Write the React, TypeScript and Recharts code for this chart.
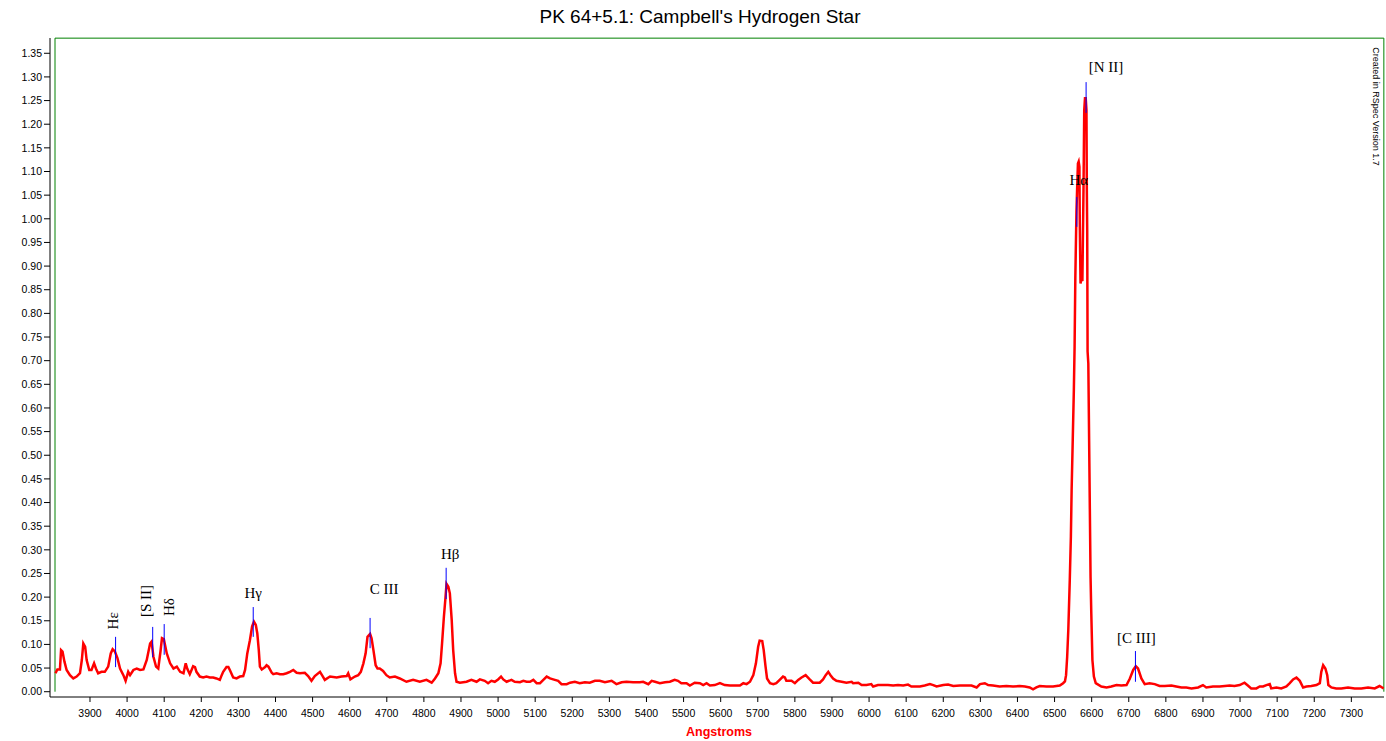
import React from 'react';
import { LineChart, Line, XAxis, YAxis, ReferenceLine, ReferenceDot } from 'recharts';

// Spectrum: [wavelength (Angstrom), relative flux]
const spectrumBlue: [number, number][] = [
  [3807, 0.039], [3812, 0.047], [3819, 0.047], [3822, 0.088], [3826, 0.085], [3831, 0.064], [3837, 0.046],
  [3846, 0.035], [3855, 0.028], [3864, 0.032], [3873, 0.039], [3878, 0.067], [3882, 0.102], [3887, 0.095],
  [3891, 0.067], [3898, 0.046], [3904, 0.046], [3911, 0.060], [3916, 0.049], [3922, 0.039], [3931, 0.042],
  [3940, 0.042], [3949, 0.053], [3956, 0.081], [3961, 0.090], [3967, 0.085], [3974, 0.071], [3981, 0.049],
  [3990, 0.035], [3996, 0.023], [4003, 0.042], [4008, 0.035], [4017, 0.046], [4026, 0.049], [4035, 0.046],
  [4044, 0.047], [4053, 0.067], [4062, 0.102], [4066, 0.106], [4071, 0.074], [4078, 0.053], [4084, 0.049],
  [4090, 0.085], [4094, 0.113], [4099, 0.111], [4107, 0.081], [4116, 0.060], [4125, 0.049], [4134, 0.053],
  [4143, 0.042], [4152, 0.039], [4158, 0.060], [4162, 0.049], [4169, 0.037], [4178, 0.054], [4183, 0.052],
  [4187, 0.042], [4196, 0.032], [4205, 0.030], [4214, 0.032], [4223, 0.030], [4232, 0.030], [4241, 0.028],
  [4250, 0.025], [4255, 0.035], [4259, 0.042], [4268, 0.052], [4273, 0.052], [4277, 0.046], [4286, 0.030],
  [4295, 0.028], [4304, 0.032], [4313, 0.033], [4318, 0.046], [4324, 0.081], [4331, 0.109], [4337, 0.138],
  [4342, 0.148], [4347, 0.141], [4351, 0.123], [4355, 0.088], [4358, 0.053], [4363, 0.047], [4372, 0.052],
  [4376, 0.056], [4381, 0.053], [4390, 0.040], [4394, 0.037], [4403, 0.039], [4412, 0.037], [4421, 0.037],
  [4430, 0.039], [4439, 0.042], [4448, 0.046], [4457, 0.040], [4466, 0.039],
];

const spectrumHbeta: [number, number][] = [
  [4479, 0.040], [4488, 0.033], [4497, 0.023], [4506, 0.033], [4520, 0.042], [4527, 0.033], [4533, 0.025],
  [4547, 0.032], [4565, 0.030], [4578, 0.032], [4592, 0.033], [4596, 0.039], [4602, 0.026], [4614, 0.032],
  [4623, 0.035], [4630, 0.042], [4637, 0.060], [4643, 0.081], [4648, 0.116], [4655, 0.122], [4659, 0.113],
  [4664, 0.088], [4670, 0.056], [4675, 0.049], [4681, 0.049], [4690, 0.044], [4699, 0.035], [4708, 0.030],
  [4722, 0.032], [4735, 0.028], [4753, 0.021], [4771, 0.025], [4789, 0.021], [4807, 0.025], [4821, 0.019],
  [4830, 0.028], [4839, 0.039], [4845, 0.060], [4849, 0.102], [4854, 0.159], [4858, 0.197], [4861, 0.228],
  [4866, 0.222], [4870, 0.208], [4875, 0.152], [4879, 0.088], [4884, 0.039], [4888, 0.021], [4897, 0.019],
  [4915, 0.021], [4928, 0.025], [4942, 0.021],
];

const spectrumGreen: [number, number][] = [
  [4951, 0.026], [4964, 0.023], [4973, 0.018], [4982, 0.023], [4991, 0.021], [5000, 0.026], [5008, 0.032],
  [5014, 0.026], [5023, 0.021], [5036, 0.025], [5045, 0.021], [5059, 0.020], [5068, 0.023], [5077, 0.021],
  [5086, 0.021], [5095, 0.025], [5104, 0.018], [5113, 0.018], [5122, 0.025], [5131, 0.032], [5140, 0.028],
  [5153, 0.025], [5162, 0.023], [5171, 0.016], [5185, 0.016], [5194, 0.019], [5207, 0.021], [5220, 0.018],
  [5234, 0.020], [5247, 0.019], [5261, 0.023], [5274, 0.023], [5288, 0.020], [5306, 0.023], [5319, 0.016],
  [5333, 0.020], [5346, 0.021], [5364, 0.020], [5382, 0.020], [5391, 0.021], [5405, 0.016], [5414, 0.023],
  [5423, 0.021], [5436, 0.018], [5450, 0.020], [5463, 0.021], [5476, 0.025], [5485, 0.023], [5494, 0.018],
  [5508, 0.018], [5517, 0.013], [5530, 0.019], [5544, 0.018], [5553, 0.014], [5562, 0.018], [5571, 0.013],
  [5584, 0.014], [5598, 0.018], [5611, 0.014], [5625, 0.013], [5638, 0.013], [5652, 0.013], [5661, 0.018],
  [5670, 0.016], [5679, 0.021], [5688, 0.035], [5695, 0.060], [5701, 0.095], [5705, 0.108], [5712, 0.107],
  [5716, 0.088], [5721, 0.053], [5725, 0.028],
];

const spectrumYellow: [number, number][] = [
  [5733, 0.018], [5742, 0.016], [5750, 0.018], [5759, 0.025], [5768, 0.032], [5773, 0.030], [5777, 0.023],
  [5791, 0.023], [5800, 0.018], [5809, 0.025], [5818, 0.030], [5829, 0.035], [5840, 0.026], [5849, 0.019],
  [5867, 0.019], [5876, 0.026], [5883, 0.035], [5890, 0.042], [5896, 0.035], [5903, 0.028], [5912, 0.023],
  [5926, 0.021], [5939, 0.019], [5953, 0.021], [5957, 0.018], [5971, 0.019], [5980, 0.014], [5993, 0.014],
  [6006, 0.016], [6011, 0.011], [6024, 0.014], [6038, 0.014], [6051, 0.014], [6065, 0.013], [6078, 0.014],
  [6092, 0.013], [6105, 0.015], [6114, 0.011], [6137, 0.011], [6150, 0.013], [6164, 0.016], [6173, 0.014],
  [6182, 0.011], [6200, 0.014], [6213, 0.015], [6227, 0.012], [6245, 0.013], [6258, 0.013], [6276, 0.013],
  [6290, 0.009], [6299, 0.016], [6312, 0.018], [6321, 0.014], [6334, 0.013], [6352, 0.011], [6370, 0.012],
  [6388, 0.011], [6406, 0.012], [6420, 0.011], [6433, 0.009], [6442, 0.005], [6451, 0.009], [6460, 0.012],
  [6478, 0.011], [6496, 0.011], [6514, 0.013], [6523, 0.018],
];

const spectrumHalpha: [number, number][] = [
  [6528, 0.022], [6531, 0.035], [6534, 0.074], [6537, 0.130], [6541, 0.236], [6544, 0.328], [6546, 0.426],
  [6549, 0.532], [6552, 0.638], [6554, 0.730], [6556, 0.877], [6559, 1.015], [6561, 1.068], [6563, 1.117],
  [6565, 1.121], [6567, 1.110], [6568, 0.990], [6570, 0.863], [6573, 0.880], [6575, 0.868], [6578, 1.061],
  [6580, 1.230], [6582, 1.255], [6584, 1.255], [6586, 1.230], [6587, 1.061], [6588, 0.976], [6589, 0.720],
  [6591, 0.694], [6594, 0.469], [6597, 0.243], [6599, 0.166], [6602, 0.067], [6606, 0.032], [6611, 0.018],
];

const spectrumRed: [number, number][] = [
  [6626, 0.011], [6640, 0.009], [6653, 0.011], [6667, 0.014], [6680, 0.013], [6694, 0.014], [6703, 0.028],
  [6712, 0.046], [6719, 0.054], [6725, 0.049], [6734, 0.028], [6743, 0.016], [6756, 0.018], [6770, 0.016],
  [6783, 0.012], [6797, 0.012], [6815, 0.013], [6828, 0.011], [6842, 0.009], [6855, 0.009], [6869, 0.007],
  [6887, 0.009], [6900, 0.014], [6909, 0.009], [6927, 0.011], [6945, 0.011], [6959, 0.012], [6972, 0.013],
  [6985, 0.012], [6999, 0.014], [7012, 0.019], [7021, 0.013], [7030, 0.007], [7044, 0.007], [7053, 0.011],
  [7062, 0.011], [7071, 0.014], [7080, 0.016], [7084, 0.007], [7098, 0.009], [7111, 0.007], [7125, 0.011],
  [7134, 0.018], [7143, 0.026], [7152, 0.030], [7161, 0.023], [7170, 0.009], [7179, 0.011], [7192, 0.012],
  [7206, 0.014], [7215, 0.018], [7219, 0.042], [7224, 0.056], [7230, 0.049], [7235, 0.035], [7238, 0.014],
  [7246, 0.009], [7259, 0.007], [7273, 0.007], [7291, 0.009], [7309, 0.007], [7327, 0.007], [7345, 0.009],
  [7363, 0.007], [7376, 0.012], [7387, 0.007],
];

const xTicks = [3900, 4000, 4100, 4200, 4300, 4400, 4500, 4600, 4700, 4800, 4900, 5000, 5100, 5200, 5300,
  5400, 5500, 5600, 5700, 5800, 5900, 6000, 6100, 6200, 6300, 6400, 6500, 6600, 6700, 6800, 6900, 7000,
  7100, 7200, 7300];
const yTicks = [0, 0.05, 0.1, 0.15, 0.2, 0.25, 0.3, 0.35, 0.4, 0.45, 0.5, 0.55, 0.6, 0.65, 0.7, 0.75, 0.8,
  0.85, 0.9, 0.95, 1.0, 1.05, 1.1, 1.15, 1.2, 1.25, 1.3, 1.35];

// Identified emission lines
const lineNames = ['Hε', '[S II]', 'Hδ', 'Hγ', 'C III', 'Hβ', 'Hα', '[N II]', '[C III]'];
const lineWavelengths = [3969, 4069, 4100, 4340, 4655, 4860, 6560, 6585, 6718];
const lineTops = [0.116, 0.137, 0.143, 0.179, 0.156, 0.262, 1.046, 1.289, 0.086];
const lineBottoms = [0.052, 0.073, 0.078, 0.116, 0.092, 0.196, 0.983, 1.224, 0.021];

// Frame (plot border) extents
const frameX = [3805.7, 7387.6];
const frameY = [0, 1.382];

// Label layout (pixel offsets from the top of each marker)
const labelDx = [-3, -7, 5, 0, 14, 4, 2, 20, 1];
const labelDy = [-16, -26, -17, -9, -24, -9, -12, -10, -8];
const labelVertical = [true, true, true, false, false, false, false, false, false];

const data = [
  ...spectrumBlue, ...spectrumHbeta, ...spectrumGreen, ...spectrumYellow, ...spectrumHalpha, ...spectrumRed,
].map(([wl, flux]) => ({ wl, flux }));

const SANS = '"Liberation Sans", Arial, sans-serif';
const SERIF = '"Liberation Serif", "Times New Roman", serif';

const makeLabel = (i: number) => (props: any) => {
  const vb = props.viewBox || {};
  const cx = (vb.x ?? 0) + (vb.width ?? 0) / 2 + labelDx[i];
  const cy = (vb.y ?? 0) + (vb.height ?? 0) / 2 + labelDy[i];
  if (labelVertical[i]) {
    return (
      <text x={cx} y={cy} dy="0.35em" textAnchor="middle" fontFamily={SERIF} fontSize={15} fill="#000"
        transform={`rotate(-90 ${cx} ${cy})`}>{lineNames[i]}</text>
    );
  }
  return (
    <text x={cx} y={cy} textAnchor="middle" fontFamily={SERIF} fontSize={15} fill="#000">{lineNames[i]}</text>
  );
};

export default function App() {
  const tickStyle = { fill: '#000', fontSize: 10.5, fontFamily: SANS };
  return (
    <div style={{ position: 'absolute', left: 0, top: 0, width: 1386, height: 741, background: '#fff' }}>
      <LineChart width={1386} height={741} data={data} margin={{ top: 38, right: 2, bottom: 0, left: 0 }}>
        <XAxis type="number" dataKey="wl" domain={[3792.2, 7388]} ticks={xTicks} allowDataOverflow
          height={44} tick={tickStyle} tickSize={5} tickMargin={8}
          axisLine={{ stroke: '#000' }} tickLine={{ stroke: '#000' }} />
        <YAxis type="number" domain={[-0.0112, 1.3823]} ticks={yTicks} allowDataOverflow width={50}
          tick={tickStyle} tickSize={6} tickMargin={2} tickFormatter={(v: number) => v.toFixed(2)}
          axisLine={{ stroke: '#000' }} tickLine={{ stroke: '#000' }} />
        <ReferenceLine segment={[{ x: frameX[0], y: frameY[0] }, { x: frameX[0], y: frameY[1] }]} stroke="#008000" strokeWidth={1} />
        <ReferenceLine segment={[{ x: frameX[0], y: frameY[1] }, { x: frameX[1], y: frameY[1] }]} stroke="#008000" strokeWidth={1} />
        <ReferenceLine segment={[{ x: frameX[1], y: frameY[0] }, { x: frameX[1], y: frameY[1] }]} stroke="#008000" strokeWidth={1} />
        <Line type="linear" dataKey="flux" stroke="#ff0000" strokeWidth={2.5} dot={false}
          isAnimationActive={false} strokeLinejoin="miter" />
        {lineNames.map((n, i) => (
          <ReferenceLine key={'l' + n} segment={[{ x: lineWavelengths[i], y: lineBottoms[i] }, { x: lineWavelengths[i], y: lineTops[i] }]}
            stroke="#0000ff" strokeWidth={1} />
        ))}
        {lineNames.map((n, i) => (
          <ReferenceDot key={'d' + n} x={lineWavelengths[i]} y={lineTops[i]} r={1} fill="none" stroke="none"
            label={makeLabel(i)} />
        ))}
      </LineChart>
      <svg width={1386} height={741} style={{ position: 'absolute', left: 0, top: 0, pointerEvents: 'none' }}>
        <text x={700} y={23} textAnchor="middle" fontFamily={SANS} fontSize={19} fill="#000">PK 64+5.1: Campbell's Hydrogen Star</text>
        <text x={719} y={736} textAnchor="middle" fontFamily={SANS} fontSize={12.5} fontWeight="bold" fill="#ff0000">Angstroms</text>
        <text x={1376} y={106.5} dy="0.35em" textAnchor="middle" fontFamily={SANS} fontSize={9} fill="#000"
          transform="rotate(90 1376 106.5)">Created in RSpec Version 1.7</text>
      </svg>
    </div>
  );
}
